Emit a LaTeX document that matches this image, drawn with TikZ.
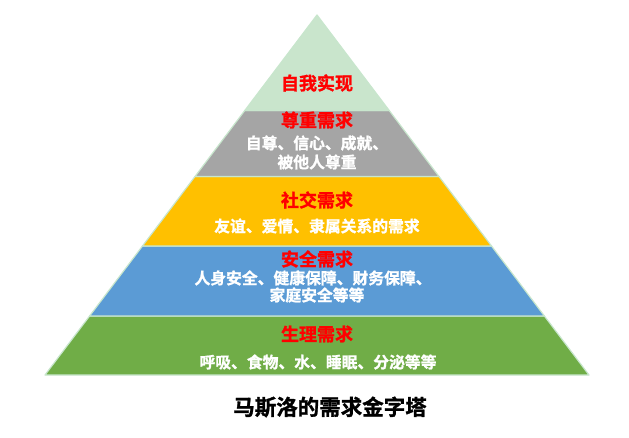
\documentclass[tikz,border=0pt]{standalone}
\usepackage{fontspec}
\newfontfamily\cjk{Noto Sans CJK SC}[BoldFont={* Bold},BoldFeatures={FakeBold=1.2}]
\definecolor{topg}{RGB}{201,229,204}
\definecolor{edgec}{RGB}{200,230,205}
\definecolor{grayl}{RGB}{165,165,165}
\definecolor{yell}{RGB}{255,192,0}
\definecolor{bluel}{RGB}{91,155,213}
\definecolor{greenl}{RGB}{112,173,71}
\definecolor{redt}{RGB}{255,0,0}
\begin{document}
\begin{tikzpicture}[x=1pt,y=-1pt,
  layer/.style={draw=edgec,line width=1.2pt,line join=round},
  headt/.style={font=\cjk\bfseries\fontsize{18}{21}\selectfont,text=redt,inner sep=0pt},
  bodyt/.style={font=\cjk\bfseries\fontsize{15.8}{19}\selectfont,text=white,inner sep=0pt,align=center},
  titlet/.style={font=\cjk\bfseries\fontsize{21.5}{25}\selectfont,text=black,inner sep=0pt}]
\useasboundingbox (0,0) rectangle (629,438);
% layers
\fill[greenl,layer] (89.6,316) -- (544.4,316) -- (589,375) -- (45,375) -- cycle;
\fill[bluel,layer] (142.5,246) -- (491.5,246) -- (544.4,316) -- (89.6,316) -- cycle;
\fill[yell,layer] (195,176.5) -- (439,176.5) -- (491.5,246) -- (142.5,246) -- cycle;
\fill[grayl,layer] (244.8,110.5) -- (389.2,110.5) -- (439,176.5) -- (195,176.5) -- cycle;
\fill[topg,layer] (317,15) -- (389.2,110.5) -- (244.8,110.5) -- cycle;
% texts
\node[headt] (h1) at (317,83) {自我实现};
\node[headt] (h2) at (317,120) {尊重需求};
\node[bodyt] (b2a) at (317,143) {自尊、信心、成就、};
\node[bodyt] (b2b) at (317,162) {被他人尊重};
\node[headt] (h3) at (317,200) {社交需求};
\node[bodyt] (b3) at (317,226) {友谊、爱情、隶属关系的需求};
\node[headt] (h4) at (317,259) {安全需求};
\node[bodyt] (b4a) at (313,278) {人身安全、健康保障、财务保障、};
\node[bodyt] (b4b) at (317,295) {家庭安全等等};
\node[headt] (h5) at (317,334) {生理需求};
\node[bodyt] (b5) at (318,362) {呼吸、食物、水、睡眠、分泌等等};
\node[titlet] (t) at (330,407) {马斯洛的需求金字塔};
\end{tikzpicture}
\end{document}
